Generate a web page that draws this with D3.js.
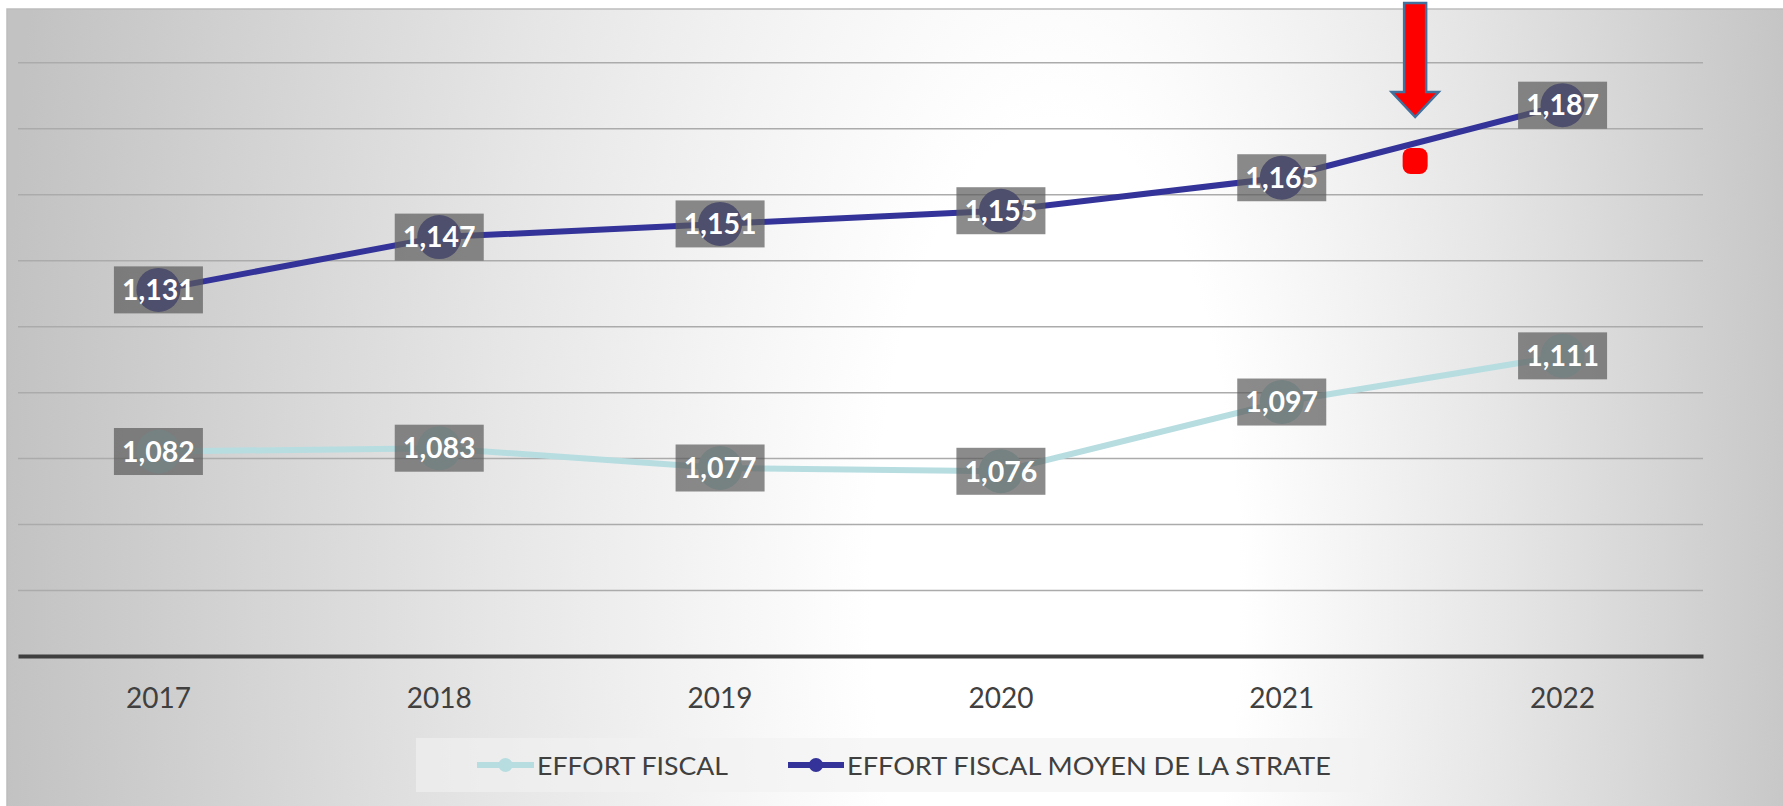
<!DOCTYPE html>
<html>
<head>
<meta charset="utf-8">
<script src="https://cdn.jsdelivr.net/npm/d3@7"></script>
<style>
  html, body { margin: 0; padding: 0; background: #ffffff; }
  svg { display: block; }
</style>
</head>
<body>
<svg id="chart" width="1783" height="806"></svg>
<script>
// Years on the category axis
const years = ["2017", "2018", "2019", "2020", "2021", "2022"];
// Commune's tax effort
const effortFiscal = [1082, 1083, 1077, 1076, 1097, 1111];
// Average tax effort of the comparison group
const effortStrate = [1131, 1147, 1151, 1155, 1165, 1187];
// Value gridlines (no labels drawn)
const gridValues = [1040, 1060, 1080, 1100, 1120, 1140, 1160, 1180, 1200];
const seriesNames = ["EFFORT FISCAL", "EFFORT FISCAL MOYEN DE LA STRATE"];

const W = 1783, H = 806;
const plot = { left: 18, right: 1703, top: 62.3, bottom: 656 };
const colors = ["#b7dde1", "#333399"];
const fmt = d3.format(",");

const svg = d3.select("#chart");
const defs = svg.append("defs");

// Soft radial shading of the chart area
const grad = defs.append("radialGradient")
  .attr("id", "bg")
  .attr("gradientUnits", "userSpaceOnUse")
  .attr("cx", 920).attr("cy", 600).attr("r", 920)
  .attr("fx", 1090).attr("fy", 600)
  .attr("gradientTransform", "translate(920,600) scale(1,2.6) translate(-920,-600)");
grad.append("stop").attr("offset", 0).attr("stop-color", "#ffffff");
grad.append("stop").attr("offset", 0.2).attr("stop-color", "#ffffff");
grad.append("stop").attr("offset", 0.55).attr("stop-color", "#e6e6e6");
grad.append("stop").attr("offset", 1).attr("stop-color", "#c2c2c2");

svg.append("rect")
  .attr("x", 7).attr("y", 9).attr("width", W).attr("height", H)
  .attr("fill", "url(#bg)")
  .attr("stroke", "#bdbdbd").attr("stroke-width", 1.5);

const x = d3.scaleBand().domain(years).range([plot.left, plot.right]);
const cx = d => x(d) + x.bandwidth() / 2;
const y = d3.scaleLinear().domain([1020, 1200]).range([plot.bottom, plot.top]);

// Horizontal gridlines
const gridAxis = d3.axisLeft(y)
  .tickValues(gridValues)
  .tickFormat("")
  .tickSize(-(plot.right - plot.left));
const gridG = svg.append("g")
  .attr("transform", `translate(${plot.left},0)`)
  .call(gridAxis);
gridG.select(".domain").remove();
gridG.selectAll(".tick line").attr("stroke", "#ababab").attr("stroke-width", 1.5);

// Category axis
const xAxis = d3.axisBottom(x).tickSize(0).tickPadding(32);
const xG = svg.append("g")
  .attr("transform", `translate(0,${plot.bottom})`)
  .call(xAxis);
xG.select(".domain").attr("stroke", "#3f3f3f").attr("stroke-width", 3.8);
xG.selectAll(".tick text")
  .attr("font-family", "Lato, sans-serif")
  .attr("font-size", 28)
  .attr("fill", "#404040");

// Lines and markers
const series = [effortFiscal, effortStrate].map((vals, i) => ({
  name: seriesNames[i],
  color: colors[i],
  points: years.map((yr, j) => ({ year: yr, value: vals[j] }))
}));

const line = d3.line().x(d => cx(d.year)).y(d => y(d.value));

const seriesG = svg.append("g");
series.forEach(s => {
  seriesG.append("path")
    .datum(s.points)
    .attr("d", line)
    .attr("fill", "none")
    .attr("stroke", s.color)
    .attr("stroke-width", 6)
    .attr("stroke-linejoin", "round");
});
series.forEach(s => {
  seriesG.selectAll(null)
    .data(s.points)
    .join("circle")
    .attr("cx", d => cx(d.year))
    .attr("cy", d => y(d.value))
    .attr("r", 22)
    .attr("fill", s.color);
});

// Data labels: translucent grey boxes with white values
const labelFs = 28.5;
const boxW = 89, boxH = 47;
const labelG = svg.append("g");
series.forEach(s => {
  const g = labelG.selectAll(null)
    .data(s.points)
    .join("g")
    .attr("transform", d => `translate(${cx(d.year)},${y(d.value)})`);
  g.append("rect")
    .attr("x", -boxW / 2).attr("y", -boxH / 2)
    .attr("width", boxW).attr("height", boxH)
    .attr("fill", "#5a5a5a").attr("fill-opacity", 0.7);
  g.append("text")
    .attr("text-anchor", "middle")
    .attr("y", labelFs * 0.36)
    .attr("font-family", "Lato, sans-serif")
    .attr("font-weight", 700)
    .attr("font-size", labelFs)
    .attr("fill", "#ffffff")
    .text(d => fmt(d.value));
});

// Red arrow and dot pointing at the 2021–2022 segment
const step = x.step();
const ax = cx("2021") + 0.475 * step;
const arrow = d3.path();
arrow.moveTo(ax - 11, 3);
arrow.lineTo(ax + 11, 3);
arrow.lineTo(ax + 11, 92);
arrow.lineTo(ax + 23.5, 92);
arrow.lineTo(ax, 117);
arrow.lineTo(ax - 23.5, 92);
arrow.lineTo(ax - 11, 92);
arrow.closePath();
svg.append("path")
  .attr("d", arrow.toString())
  .attr("fill", "#ff0000")
  .attr("stroke", "#41719c")
  .attr("stroke-width", 2.5)
  .attr("stroke-linejoin", "miter");
svg.append("rect")
  .attr("x", ax - 12.5).attr("y", 148)
  .attr("width", 25).attr("height", 26)
  .attr("rx", 8).attr("ry", 8)
  .attr("fill", "#ff0000");

// Legend
const legend = svg.append("g");
legend.append("rect")
  .attr("x", 416).attr("y", 738).attr("width", 968).attr("height", 54)
  .attr("fill", "#f2f2f2").attr("fill-opacity", 0.6);
const legendItems = [
  { x0: 477, x1: 534, tx: 537, tw: 191 },
  { x0: 788, x1: 844, tx: 847, tw: 484 }
];
legendItems.forEach((it, i) => {
  legend.append("line")
    .attr("x1", it.x0).attr("x2", it.x1)
    .attr("y1", 765).attr("y2", 765)
    .attr("stroke", colors[i]).attr("stroke-width", 6);
  legend.append("circle")
    .attr("cx", (it.x0 + it.x1) / 2).attr("cy", 765).attr("r", 7)
    .attr("fill", colors[i]);
  legend.append("text")
    .attr("x", it.tx).attr("y", 775)
    .attr("font-family", "Lato, sans-serif")
    .attr("font-size", 25.5)
    .attr("fill", "#404040")
    .attr("textLength", it.tw)
    .attr("lengthAdjust", "spacingAndGlyphs")
    .text(seriesNames[i]);
});
</script>
</body>
</html>
